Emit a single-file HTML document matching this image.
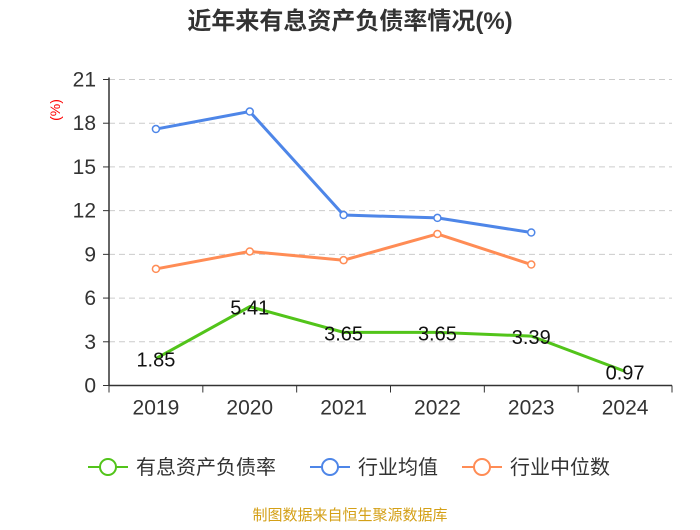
<!DOCTYPE html>
<html><head><meta charset="utf-8"><style>
body{margin:0;background:#fff;font-family:"Liberation Sans","Noto Sans CJK SC",sans-serif}
</style></head><body>
<svg id="c" width="700" height="525" xmlns="http://www.w3.org/2000/svg">
<text x="350" y="29" text-anchor="middle" font-size="24" font-weight="bold" fill="#333" font-family="Liberation Sans,Noto Sans CJK SC,sans-serif">近年来有息资产负债率情况(%)</text>
<text transform="translate(60,110) rotate(-90)" text-anchor="middle" font-size="14" fill="#f00">(%)</text>
<g id="grid"></g><g id="axes"></g><g id="series"></g>
<g font-size="20" fill="#333">
<g><line x1="88" y1="467" x2="128" y2="467" stroke="#52c41a" stroke-width="2"/><circle cx="108" cy="467" r="8" fill="#fff" stroke="#52c41a" stroke-width="2"/><text x="136" y="474">有息资产负债率</text></g>
<g><line x1="310" y1="467" x2="350" y2="467" stroke="#4e86e8" stroke-width="2"/><circle cx="330" cy="467" r="8" fill="#fff" stroke="#4e86e8" stroke-width="2"/><text x="358" y="474">行业均值</text></g>
<g><line x1="462" y1="467" x2="502" y2="467" stroke="#ff8c55" stroke-width="2"/><circle cx="482" cy="467" r="8" fill="#fff" stroke="#ff8c55" stroke-width="2"/><text x="510" y="474">行业中位数</text></g>
</g>
<text x="350" y="520" text-anchor="middle" font-size="15" fill="#d4a017">制图数据来自恒生聚源数据库</text>
</svg>
<script>
const categories=["2019","2020","2021","2022","2023","2024"];
const debtRatio=[1.85,5.41,3.65,3.65,3.39,0.97];
const industryAvg=[17.6,18.8,11.7,11.5,10.5];
const industryMedian=[8.0,9.2,8.6,10.4,8.3];
const yTicks=[0,3,6,9,12,15,18,21];
const NS="http://www.w3.org/2000/svg";
const x0=109,x1=672,yTop=79.5,yBot=385.5,yMax=21;
const bw=(x1-x0)/categories.length;
const X=i=>x0+bw*(i+0.5);
const Y=v=>yBot-(v/yMax)*(yBot-yTop);
function mk(tag,attrs,parent){const e=document.createElementNS(NS,tag);for(const k in attrs)e.setAttribute(k,attrs[k]);parent.appendChild(e);return e;}
const grid=document.getElementById('grid'),axes=document.getElementById('axes'),ser=document.getElementById('series');
yTicks.forEach(t=>{
 if(t>0){const g=mk('line',{x1:x0,x2:x1,y1:Y(t),y2:Y(t),stroke:'#ccc','stroke-dasharray':'6,4'},grid);
 
 }
 const tk=mk('line',{x1:x0-6,x2:x0,y1:Y(t),y2:Y(t),stroke:'#333'},axes);
 
 
 const l=mk('text',{x:x0-13,y:Y(t)+7,'text-anchor':'end','font-size':'21',fill:'#333'},axes);l.textContent=t;
 
 
});
const ya=mk('line',{x1:x0,x2:x0,y1:yTop-2,y2:yBot,stroke:'#333','stroke-width':1.5},axes);


const xa=mk('line',{x1:x0,x2:x1,y1:yBot,y2:yBot,stroke:'#333','stroke-width':1.5},axes);


for(let i=0;i<=categories.length;i++){const t=mk('line',{x1:x0+bw*i,x2:x0+bw*i,y1:yBot,y2:yBot+7,stroke:'#333'},axes);
 
 }
categories.forEach((c,i)=>{const l=mk('text',{x:X(i),y:yBot+29,'text-anchor':'middle','font-size':'21',fill:'#333'},axes);l.textContent=c;
 
 });
function series(vals,color,name,markers,labels){
 const p=mk('polyline',{points:vals.map((v,i)=>X(i)+','+Y(v)).join(' '),fill:'none',stroke:color,'stroke-width':3},ser);
 
 
 vals.forEach((v,i)=>{
  if(markers){const c=mk('circle',{cx:X(i),cy:Y(v),r:3.5,fill:'#fff',stroke:color,'stroke-width':1.5},ser);
  
  }
  if(labels){const t=mk('text',{x:X(i),y:Y(v)+8,'text-anchor':'middle','font-size':'20',fill:'#111'},ser);t.textContent=v.toFixed(2);
  
  }
 });
}
series(industryAvg,'#4e86e8','industry-avg',true,false);
series(industryMedian,'#ff8c55','industry-median',true,false);
series(debtRatio,'#52c41a','debt-ratio',false,true);
</script>
</body></html>
